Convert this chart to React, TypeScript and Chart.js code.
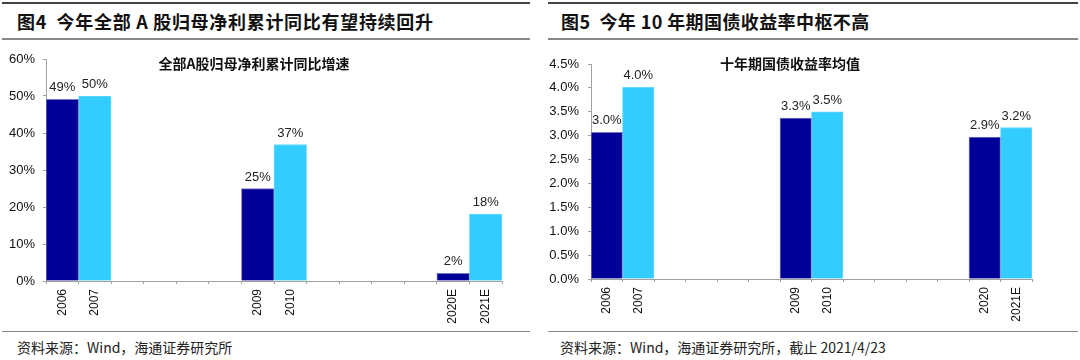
import React, { useEffect, useRef } from "react";
import { Chart, registerables } from "chart.js";

Chart.register(...registerables);

// ---------- data ----------
const categories = ["2006", "2007", "", "", "", "", "2009", "2010", "", "", "", "", "2020E", "2021E"];
const rightCategories = ["2006", "2007", "", "", "", "", "2009", "2010", "", "", "", "", "2020", "2021E"];

// left chart: 全部A股归母净利累计同比增速 (%)
const profitPrev = [49.1, null, null, null, null, null, 25.0, null, null, null, null, null, 2.1, null];
const profitCurr = [null, 50.0, null, null, null, null, null, 36.9, null, null, null, null, null, 18.1];
const profitPrevLabels = ["49%", "", "", "", "", "", "25%", "", "", "", "", "", "2%", ""];
const profitCurrLabels = ["", "50%", "", "", "", "", "", "37%", "", "", "", "", "", "18%"];
const profitTicks = { max: 60, step: 10 };

// right chart: 十年期国债收益率均值 (%)
const yieldPrev = [3.07, null, null, null, null, null, 3.37, null, null, null, null, null, 2.97, null];
const yieldCurr = [null, 4.01, null, null, null, null, null, 3.5, null, null, null, null, null, 3.17];
const yieldPrevLabels = ["3.0%", "", "", "", "", "", "3.3%", "", "", "", "", "", "2.9%", ""];
const yieldCurrLabels = ["", "4.0%", "", "", "", "", "", "3.5%", "", "", "", "", "", "3.2%"];
const yieldTicks = { max: 4.5, step: 0.5 };

// ---------- style ----------
const DARK = "#000099";
const LIGHT = "#33CCFF";
const AXIS = "#a0a0a0";
const LATIN = 'Arial, "Liberation Sans", sans-serif';
const CJK = '"Noto Sans CJK SC", sans-serif';

const labelPlugin = {
  id: "barLabels",
  afterDatasetsDraw(chart: any) {
    const ctx = chart.ctx;
    ctx.save();
    ctx.font = `13px ${LATIN}`;
    ctx.fillStyle = "#222";
    ctx.textAlign = "center";
    ctx.textBaseline = "bottom";
    chart.data.datasets.forEach((ds: any, di: number) => {
      const meta = chart.getDatasetMeta(di);
      meta.data.forEach((el: any, i: number) => {
        const txt = ds.valueLabels?.[i];
        if (ds.data[i] == null || !txt) return;
        ctx.fillText(txt, el.x, el.y - 5);
      });
    });
    ctx.restore();
  },
};

type PanelProps = {
  labels: string[];
  prev: (number | null)[];
  curr: (number | null)[];
  prevLabels: string[];
  currLabels: string[];
  ticks: { max: number; step: number };
  decimals: number;
  yWidth: number;
  padTop: number;
  padRight: number;
  xHeight: number;
  yPad: number;
  width: number;
  height: number;
};

function BarPanel(p: PanelProps) {
  const ref = useRef<HTMLCanvasElement>(null);
  useEffect(() => {
    if (!ref.current) return;
    const chart = new Chart(ref.current, {
      type: "bar",
      data: {
        labels: p.labels,
        datasets: [
          {
            data: p.prev,
            backgroundColor: DARK,
            borderColor: "#7777bb",
            borderWidth: 1,
            grouped: false,
            barPercentage: 1,
            categoryPercentage: 1,
            valueLabels: p.prevLabels,
          } as any,
          {
            data: p.curr,
            backgroundColor: LIGHT,
            borderColor: "#66d9ff",
            borderWidth: 1,
            grouped: false,
            barPercentage: 1,
            categoryPercentage: 1,
            valueLabels: p.currLabels,
          } as any,
        ],
      },
      options: {
        responsive: false,
        animation: false,
        layout: { padding: { top: p.padTop, right: p.padRight, left: 0, bottom: 0 } },
        plugins: { legend: { display: false }, tooltip: { enabled: false }, title: { display: false } },
        scales: {
          x: {
            grid: { offset: true, drawOnChartArea: false, drawTicks: true, tickLength: 3, color: AXIS },
            border: { color: AXIS },
            ticks: {
              autoSkip: false,
              maxRotation: 90,
              minRotation: 90,
              padding: 5,
              color: "#111",
              font: { family: LATIN, size: 12 },
            },
            afterFit: (s: any) => {
              s.height = p.xHeight;
            },
          },
          y: {
            min: 0,
            max: p.ticks.max,
            grid: { drawOnChartArea: false, drawTicks: true, tickLength: 3, color: AXIS },
            border: { color: AXIS },
            ticks: {
              stepSize: p.ticks.step,
              padding: p.yPad,
              color: "#111",
              font: { family: LATIN, size: 13 },
              callback: (v: any) => Number(v).toFixed(p.decimals) + "%",
            },
            afterFit: (s: any) => {
              s.width = p.yWidth;
            },
          },
        },
      } as any,
      plugins: [labelPlugin],
    });
    return () => chart.destroy();
  }, []);
  return <canvas ref={ref} width={p.width} height={p.height} style={{ width: p.width, height: p.height, display: "block" }} />;
}

const abs = (s: React.CSSProperties): React.CSSProperties => ({ position: "absolute", ...s });

export default function App() {
  return (
    <div style={{ position: "fixed", left: 0, top: 0, width: 1080, height: 360, background: "#fff", overflow: "hidden" }}>
      {/* left panel frame */}
      <div style={abs({ left: 2, top: 2, width: 528, height: 2, background: "#444" })} />
      <div style={abs({ left: 2, top: 38, width: 528, height: 1.5, background: "#888" })} />
      <div style={abs({ left: 2, top: 331, width: 528, height: 1, background: "#888" })} />
      <div style={abs({ left: 17, top: 8, fontFamily: CJK, fontWeight: 700, fontSize: 18, lineHeight: "26px", color: "#111", whiteSpace: "pre", letterSpacing: 0.7 })}>
        {"图4  今年全部 A 股归母净利累计同比有望持续回升"}
      </div>
      <div style={abs({ left: 17, top: 336, fontFamily: CJK, fontSize: 14, lineHeight: "22px", color: "#222", whiteSpace: "pre" })}>
        {"资料来源：Wind，海通证券研究所"}
      </div>
      <div style={abs({ left: 0, top: 42 })}>
        <BarPanel
          labels={categories}
          prev={profitPrev}
          curr={profitCurr}
          prevLabels={profitPrevLabels}
          currLabels={profitCurrLabels}
          ticks={profitTicks}
          decimals={0}
          yWidth={46}
          padTop={17}
          padRight={28}
          xHeight={49}
          yPad={8}
          width={530}
          height={288}
        />
      </div>
      <div style={abs({ left: 154, top: 53, width: 200, textAlign: "center", fontFamily: CJK, fontWeight: 700, fontSize: 14, lineHeight: "20px", color: "#111" })}>
        全部A股归母净利累计同比增速
      </div>

      {/* right panel frame */}
      <div style={abs({ left: 548, top: 2, width: 530, height: 2, background: "#444" })} />
      <div style={abs({ left: 548, top: 38, width: 530, height: 1.5, background: "#888" })} />
      <div style={abs({ left: 548, top: 331, width: 530, height: 1, background: "#888" })} />
      <div style={abs({ left: 561, top: 8, fontFamily: CJK, fontWeight: 700, fontSize: 18, lineHeight: "26px", color: "#111", whiteSpace: "pre", letterSpacing: 0.4 })}>
        {"图5  今年 10 年期国债收益率中枢不高"}
      </div>
      <div style={abs({ left: 560, top: 336, fontFamily: CJK, fontSize: 14, lineHeight: "22px", color: "#222", whiteSpace: "pre" })}>
        {"资料来源：Wind，海通证券研究所，截止 2021/4/23"}
      </div>
      <div style={abs({ left: 540, top: 42 })}>
        <BarPanel
          labels={rightCategories}
          prev={yieldPrev}
          curr={yieldCurr}
          prevLabels={yieldPrevLabels}
          currLabels={yieldCurrLabels}
          ticks={yieldTicks}
          decimals={1}
          yWidth={51}
          padTop={22}
          padRight={48}
          xHeight={51}
          yPad={9}
          width={540}
          height={288}
        />
      </div>
      <div style={abs({ left: 690, top: 53, width: 200, textAlign: "center", fontFamily: CJK, fontWeight: 700, fontSize: 14, lineHeight: "20px", color: "#111" })}>
        十年期国债收益率均值
      </div>
    </div>
  );
}
